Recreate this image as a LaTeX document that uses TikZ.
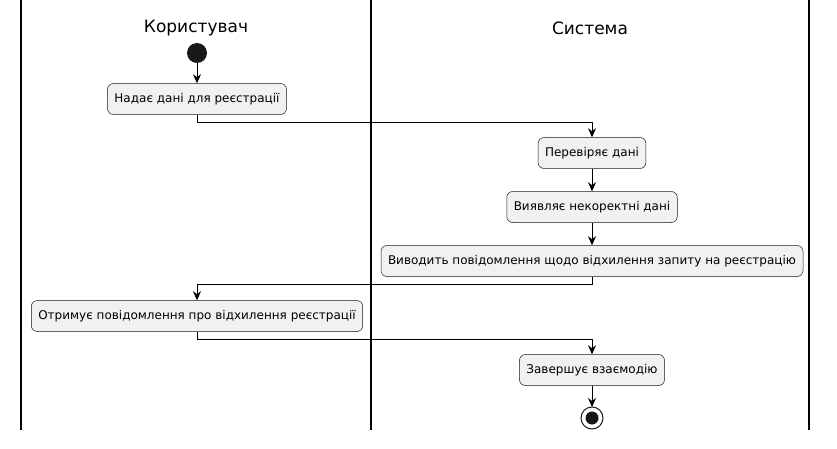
\documentclass[tikz,border=0pt]{standalone}
\usepackage{fontspec}
\setmainfont{DejaVu Sans}
\usetikzlibrary{arrows.meta,positioning}
\definecolor{actfill}{HTML}{F1F1F1}
\definecolor{actline}{HTML}{181818}
\tikzset{
  act/.style={draw=actline,fill=actfill,rounded corners=6pt,line width=0.5pt,
    minimum height=31pt,inner xsep=7pt,font=\fontsize{12}{14}\selectfont},
  lane/.style={line width=1.2pt},
  flow/.style={line width=0.7pt,-{Stealth[length=9pt,width=8pt,inset=3pt]}},
  head/.style={font=\fontsize{17}{20}\selectfont}
}
\begin{document}
\begin{tikzpicture}[x=1pt,y=-1pt]
\useasboundingbox (0,0) rectangle (837,449);
% swimlanes
\foreach \x in {21,371,809} \draw[lane] (\x,0) -- (\x,430);
\node[head] (laneU) at (196,28) {Користувач};
\node[head] (laneS) at (590,28) {Система};
% activities
\fill[actline] (197,53) circle (10) coordinate (start);
\node[act] (a1) at (197,99) {Надає дані для реєстрації};
\node[act] (a2) at (592,153) {Перевіряє дані};
\node[act] (a3) at (592,207) {Виявляє некоректні дані};
\node[act] (a4) at (592,261) {Виводить повідомлення щодо відхилення запиту на реєстрацію};
\node[act] (a5) at (197,316) {Отримує повідомлення про відхилення реєстрації};
\node[act] (a6) at (592,370) {Завершує взаємодію};
\draw[actline,line width=1pt] (592,418) circle (11);
\fill[actline] (592,418) circle (6.5);
\coordinate (stop) at (592,407);
% flows
\draw[flow] (197,63) -- (a1);
\draw[flow] (a1.south) -- ++(0,8) -| (a2.north);
\draw[flow] (a2) -- (a3);
\draw[flow] (a3) -- (a4);
\draw[flow] (a4.south) -- ++(0,8) -| (a5.north);
\draw[flow] (a5.south) -- ++(0,8) -| (a6.north);
\draw[flow] (a6) -- (stop);
\end{tikzpicture}
\end{document}
